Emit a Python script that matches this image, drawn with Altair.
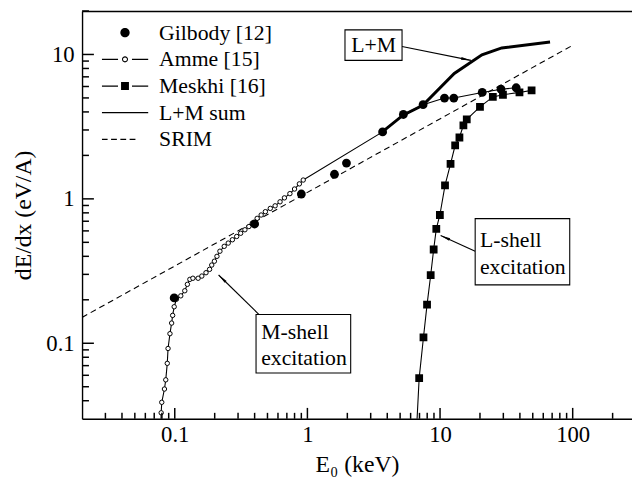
import math
import altair as alt
import pandas as pd

FONT = "Liberation Serif, Times New Roman, Times, DejaVu Serif, serif"

# ---------------- data ----------------
gilbody_x = [0.099, 0.40, 0.90, 1.6, 1.97, 3.69, 5.29, 7.45, 10.8, 12.7, 20.8, 28.8, 37.5]
gilbody_y = [0.206, 0.67, 1.08, 1.48, 1.77, 2.91, 3.84, 4.49, 4.99, 4.99, 5.46, 5.75, 5.88]

amme_x = [0.0790, 0.0798, 0.0836, 0.0855, 0.0878, 0.0890, 0.0920, 0.0947, 0.0964, 0.0990,
          0.103, 0.111, 0.119, 0.1245, 0.130, 0.137, 0.150, 0.160, 0.172, 0.183,
          0.190, 0.199, 0.208, 0.219, 0.236, 0.253, 0.272, 0.293, 0.314, 0.338,
          0.362, 0.384, 0.418, 0.448, 0.482, 0.525, 0.571, 0.622, 0.671, 0.738,
          0.80, 0.87, 0.93]
amme_y = [0.033, 0.039, 0.0482, 0.0558, 0.0726, 0.092, 0.1165, 0.138, 0.156, 0.179,
          0.202, 0.213, 0.231, 0.256, 0.277, 0.282, 0.282, 0.292, 0.308, 0.325,
          0.348, 0.370, 0.400, 0.434, 0.469, 0.494, 0.521, 0.549, 0.578, 0.611,
          0.643, 0.678, 0.733, 0.773, 0.815, 0.859, 0.895, 0.954, 1.016, 1.087,
          1.17, 1.27, 1.35]
amme_tail_x = [0.0787]
amme_tail_y = [0.029]

meskhi_x = [6.96, 7.50, 7.98, 8.5, 8.95, 9.37, 9.97, 10.9, 12.0, 13.0, 14.0, 15.0, 15.9,
            20.0, 25.0, 29.8, 39.7, 49.0]
meskhi_y = [0.0574, 0.110, 0.185, 0.296, 0.446, 0.62, 0.773, 1.24, 1.75, 2.35, 2.66, 3.23,
            3.55, 4.34, 5.08, 5.26, 5.46, 5.64]
meskhi_tail_x = [6.7]
meskhi_tail_y = [0.029]

lmsum_x = [0.93, 3.69, 5.29, 7.45, 10.8, 12.7, 20.8, 28.8, 37.5]
lmsum_y = [1.35, 2.91, 3.84, 4.49, 4.99, 4.99, 5.46, 5.75, 5.88]

lm_thick_x = [3.67, 5.26, 7.41, 12.8, 20.7, 29.2, 67.5]
lm_thick_y = [2.91, 3.80, 4.45, 7.38, 9.95, 11.1, 12.2]

srim_x = [0.02, 97.0]
srim_y = [0.151, 11.4]

legend_names = ["Gilbody [12]", "Amme [15]", "Meskhi [16]", "L+M sum", "SRIM"]

# annotation boxes / texts / arrows (data coordinates)
box_x1 = [1.92, 0.41, 18.4]
box_x2 = [5.17, 2.12, 95.0]
box_y1 = [9.10, 0.0623, 0.2536]
box_y2 = [14.8, 0.158, 0.730]

ann_text = ["L+M", "M-shell", "excitation", "L-shell", "excitation"]
ann_x = [2.14, 0.448, 0.448, 20.0, 20.0]
ann_y = [11.6, 0.119, 0.0789, 0.516, 0.337]

arr_x1 = [5.17, 18.4, 0.432]
arr_y1 = [11.35, 0.434, 0.158]
arr_x2 = [17.1, 10.1, 0.214]
arr_y2 = [9.10, 0.558, 0.297]

x_major = [0.1, 1, 10, 100]
y_major = [0.1, 1, 10]

# ---------------- layout ----------------
XDOM = [0.02, 280]
YDOM = [0.03, 20]
W, H = 557, 413
x_minor = [round(m * 10 ** e, 6) for e in (-2, -1, 0, 1, 2) for m in range(2, 10)
           if XDOM[0] < m * 10 ** e <= XDOM[1]]
y_minor = [round(m * 10 ** e, 6) for e in (-2, -1, 0, 1) for m in range(2, 10)
           if YDOM[0] < m * 10 ** e <= YDOM[1]]

xs = alt.Scale(type="log", domain=XDOM, nice=False)
ys = alt.Scale(type="log", domain=YDOM, nice=False)

kx = W / math.log10(XDOM[1] / XDOM[0])   # pixels per decade
ky = H / math.log10(YDOM[1] / YDOM[0])

dummy = pd.DataFrame({"x": [1.0], "y": [1.0]})


def base(df):
    return alt.Chart(df)


def XE(field="x", axis=None):
    return alt.X(f"{field}:Q", scale=xs, axis=axis)


def YE(field="y", axis=None):
    return alt.Y(f"{field}:Q", scale=ys, axis=axis)


# axes with labels and frame lines (left, bottom), top frame line
ax_labels = base(dummy).mark_point(opacity=0).encode(
    x=XE(axis=alt.Axis(orient="bottom", values=x_major, format="~g", ticks=False, domain=True,
                       domainColor="black", domainWidth=1.4,
                       grid=False, labelFont=FONT, labelFontSize=23, labelColor="black",
                       labelPadding=5, labelFlush=False, labelOverlap=False,
                       title="E₀  (keV)", titleFont=FONT, titleFontSize=24,
                       titleFontWeight="normal", titleColor="black", titlePadding=6)),
    y=YE(axis=alt.Axis(orient="left", values=y_major, format="~g", ticks=False, domain=True,
                       domainColor="black", domainWidth=1.4,
                       grid=False, labelFont=FONT, labelFontSize=23, labelColor="black",
                       labelPadding=8, labelFlush=False, labelOverlap=False,
                       title="dE/dx  (eV/A)", titleFont=FONT, titleFontSize=24,
                       titleFontWeight="normal", titleColor="black", titlePadding=10)),
)

ax_frame = base(dummy).mark_point(opacity=0).encode(
    x=XE(axis=alt.Axis(orient="top", labels=False, domain=True, domainColor="black",
                       domainWidth=1.4, ticks=False, grid=False, title="")),
    y=YE(),
)

# inward ticks of both axes in ONE rule layer, placed through the scales
tick_rows = []
for v in x_major:
    tick_rows.append((v, v, YDOM[0], YDOM[0] * 10 ** (11 / ky)))
for v in x_minor:
    tick_rows.append((v, v, YDOM[0], YDOM[0] * 10 ** (6 / ky)))
for v in y_major:
    tick_rows.append((XDOM[0], XDOM[0] * 10 ** (12 / kx), v, v))
for v in y_minor:
    tick_rows.append((XDOM[0], XDOM[0] * 10 ** (7 / kx), v, v))
ticks_df = pd.DataFrame(tick_rows, columns=["kx1", "kx2", "ky1", "ky2"])

ticks = base(ticks_df).mark_rule(color="black", strokeWidth=1.5).encode(
    x=XE("kx1"), x2="kx2:Q", y=YE("ky1"), y2="ky2:Q")

# data layers
srim = base(pd.DataFrame({"x": srim_x, "y": srim_y})).mark_line(
    color="black", strokeWidth=1.1, strokeDash=[6, 4], clip=True).encode(x=XE(), y=YE())

thick = base(pd.DataFrame({"x": lm_thick_x, "y": lm_thick_y})).mark_line(
    color="black", strokeWidth=3, clip=True).encode(x=XE(), y=YE())

lmsum = base(pd.DataFrame({"x": lmsum_x, "y": lmsum_y})).mark_line(
    color="black", strokeWidth=1.1, clip=True).encode(x=XE(), y=YE())

amme_line = base(pd.DataFrame({"x": amme_tail_x + amme_x, "y": amme_tail_y + amme_y})).mark_line(
    color="black", strokeWidth=1.1, clip=True).encode(x=XE(), y=YE())

mesk_line = base(pd.DataFrame({"x": meskhi_tail_x + meskhi_x,
                               "y": meskhi_tail_y + meskhi_y})).mark_line(
    color="black", strokeWidth=1.1, clip=True).encode(x=XE(), y=YE())

amme_pts = base(pd.DataFrame({"x": amme_x, "y": amme_y})).mark_point(
    shape="circle", size=20, filled=True, fill="white", stroke="black", strokeWidth=1,
    opacity=1, clip=True).encode(x=XE(), y=YE())

mesk_pts = base(pd.DataFrame({"x": meskhi_x, "y": meskhi_y})).mark_point(
    shape="square", size=62, filled=True, color="black", opacity=1, clip=True).encode(
    x=XE(), y=YE())

gil_pts = base(pd.DataFrame({"x": gilbody_x, "y": gilbody_y})).mark_point(
    shape="circle", size=80, filled=True, color="black", opacity=1, clip=True).encode(
    x=XE(), y=YE())

# annotations
boxes = base(pd.DataFrame({"x": box_x1, "x2": box_x2, "y": box_y1, "y2": box_y2})).mark_rect(
    fill="white", stroke="black", strokeWidth=1.1).encode(
    x=XE(), x2="x2:Q", y=YE(), y2="y2:Q")

texts = base(pd.DataFrame({"t": ann_text, "x": ann_x, "y": ann_y})).mark_text(
    align="left", baseline="middle", font=FONT, fontSize=22, color="black").encode(
    x=XE(), y=YE(), text="t:N")

arrows = base(pd.DataFrame({"x": arr_x1, "y": arr_y1, "x2": arr_x2, "y2": arr_y2})).mark_rule(
    color="black", strokeWidth=1.1).encode(x=XE(), y=YE(), x2="x2:Q", y2="y2:Q")

angles = []
for a, b, c, d in zip(arr_x1, arr_y1, arr_x2, arr_y2):
    dx = math.log10(c / a) * kx
    dy = -math.log10(d / b) * ky
    angles.append(math.degrees(math.atan2(dx, -dy)) % 360)

heads = base(pd.DataFrame({"x": arr_x2, "y": arr_y2, "ang": angles})).mark_point(
    shape="M0,0L-0.27,2L0.27,2Z", size=100, filled=True, color="black", opacity=1).encode(
    x=XE(), y=YE(), angle=alt.Angle("ang:Q", scale=None))

# legend (symbols drawn as filled paths)
ln = "M-1,-0.026L-0.3,-0.026L-0.3,0.026L-1,0.026ZM0.3,-0.026L1,-0.026L1,0.026L0.3,0.026Z"
ring = ("M-0.13,0A0.13,0.13,0,1,1,0.13,0A0.13,0.13,0,1,1,-0.13,0Z"
        "M-0.085,0A0.085,0.085,0,1,0,0.085,0A0.085,0.085,0,1,0,-0.085,0Z")
dot = "M-0.2,0A0.2,0.2,0,1,1,0.2,0A0.2,0.2,0,1,1,-0.2,0Z"
sq = "M-0.17,-0.17L0.17,-0.17L0.17,0.17L-0.17,0.17Z"
full = "M-1,-0.026L1,-0.026L1,0.026L-1,0.026Z"
dash = ("M-1,-0.026L-0.75,-0.026L-0.75,0.026L-1,0.026Z"
        "M-0.6,-0.026L-0.35,-0.026L-0.35,0.026L-0.6,0.026Z"
        "M-0.2,-0.026L0.05,-0.026L0.05,0.026L-0.2,0.026Z"
        "M0.2,-0.026L0.45,-0.026L0.45,0.026L0.2,0.026Z")
legend_paths = [dot, ln + ring, ln + sq, full, dash]

legend_layer = base(pd.DataFrame({"series": legend_names, "x": [1.0] * 5,
                                  "y": [1.0] * 5})).transform_filter("false").mark_point(
    filled=True, color="black", opacity=1).encode(
    x=XE(), y=YE(),
    shape=alt.Shape("series:N", scale=alt.Scale(domain=legend_names, range=legend_paths),
                    legend=alt.Legend(title=None, orient="none", legendX=20, legendY=11,
                                      symbolSize=2209, symbolFillColor="black",
                                      symbolStrokeWidth=0, clipHeight=22, rowPadding=5,
                                      labelOffset=11, padding=0, labelFont=FONT,
                                      labelFontSize=22, labelColor="black",
                                      labelLimit=300)),
)

chart = alt.layer(
    ax_labels, ax_frame,
    srim, thick, lmsum, amme_line, mesk_line,
    amme_pts, mesk_pts, gil_pts,
    arrows, heads, boxes, texts, legend_layer, ticks,
).resolve_axis(x="independent", y="independent").properties(
    width=W, height=H,
    autosize=alt.AutoSizeParams(type="none"),
    padding={"left": 75, "top": 0, "right": 0, "bottom": 60},
    background="white",
).configure_view(stroke=None).configure(font=FONT)

chart.save("out.html", embed_options={"renderer": "svg", "actions": False})
